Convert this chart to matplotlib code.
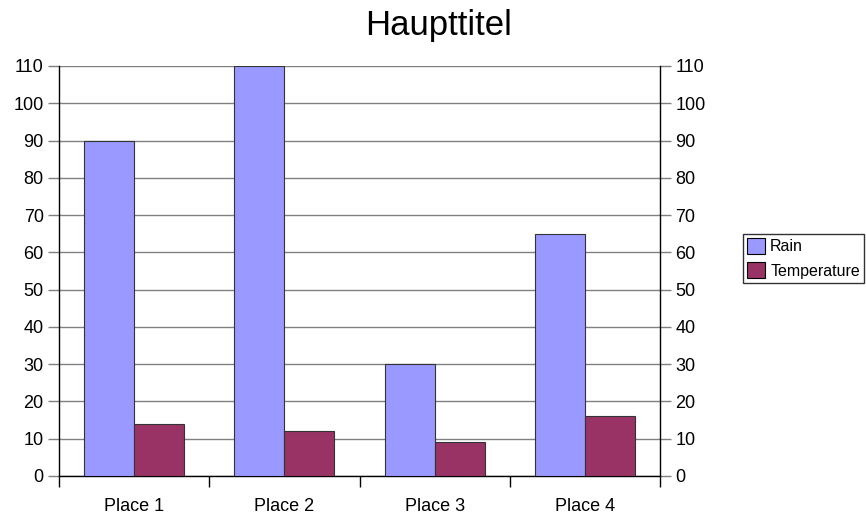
import numpy as np
import matplotlib.pyplot as plt
from matplotlib.ticker import FixedLocator, MultipleLocator

plt.rcParams['font.family'] = ['Liberation Sans', 'DejaVu Sans']

# data
places = ['Place 1', 'Place 2', 'Place 3', 'Place 4']
rain = [90, 110, 30, 65]
temperature = [14, 12, 9, 16]

fig = plt.figure(figsize=(8.66, 5.2), dpi=100)
ax = fig.add_axes([59 / 866, 1 - 476 / 520, 601 / 866, 410 / 520])

x = np.arange(len(places))
w = 1 / 3
ax.bar(x - w / 2, rain, width=w, color='#9999FF', edgecolor='#333333',
       linewidth=0.8, label='Rain', zorder=3)
ax.bar(x + w / 2, temperature, width=w, color='#993366', edgecolor='#333333',
       linewidth=0.8, label='Temperature', zorder=3)

ax.set_xlim(-0.5, len(places) - 0.5)
ax.set_ylim(0, 110)
ax.yaxis.set_major_locator(MultipleLocator(10))
ax.grid(axis='y', color='#808080', linewidth=1, zorder=0)

ax.set_xticks(x)
ax.set_xticklabels(places, fontsize=13)
ax.xaxis.set_minor_locator(FixedLocator(np.arange(-0.5, len(places), 1)))
ax.tick_params(axis='x', which='major', length=0, pad=16)
ax.tick_params(axis='x', which='minor', length=8, width=1, color='black', direction='out')
ax.tick_params(axis='y', which='major', labelsize=13, length=8, width=1,
               color='#808080', direction='out', pad=3,
               left=True, right=True, labelleft=True, labelright=True)

for s in ['left', 'bottom', 'right']:
    ax.spines[s].set_color('black')
    ax.spines[s].set_linewidth(1)
ax.spines['top'].set_visible(False)

leg = fig.legend(loc='upper left', bbox_to_anchor=(743 / 866, 1 - 234 / 520),
                 fontsize=11.5, frameon=True, fancybox=False, borderaxespad=0,
                 handlelength=1.15, handleheight=1.15, handletextpad=0.3,
                 borderpad=0.25, labelspacing=0.5)
leg.get_frame().set_edgecolor('black')
leg.get_frame().set_linewidth(1)
for h in leg.legend_handles:
    h.set_edgecolor('black')

fig.text(439 / 866, 1 - 35 / 520, 'Haupttitel', fontsize=25,
         ha='center', va='baseline')

fig.savefig('out.png', dpi=100)
